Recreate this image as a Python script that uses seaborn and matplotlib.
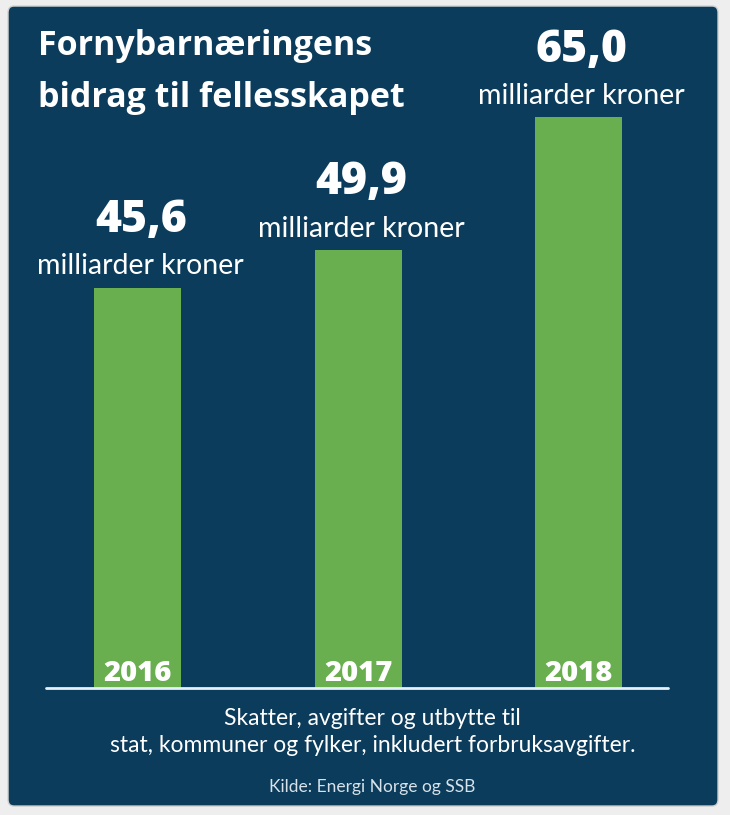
import seaborn as sns
import pandas as pd
import matplotlib.pyplot as plt
from matplotlib.patches import FancyBboxPatch

years = ["2016", "2017", "2018"]
values = [45.6, 49.9, 65.0]
value_labels = ["45,6", "49,9", "65,0"]
unit = "milliarder kroner"
title_lines = ["Fornybarnæringens", "bidrag til fellesskapet"]
note_lines = ["Skatter, avgifter og utbytte til",
              "stat, kommuner og fylker, inkludert forbruksavgifter."]
source = "Kilde: Energi Norge og SSB"

navy = "#0b3c5b"
green = "#69ae4f"
light = ["Lato", "DejaVu Sans"]

sns.set_style("white")
plt.rcParams["font.family"] = ["Open Sans", "DejaVu Sans"]

df = pd.DataFrame({"year": years, "value": values})

fig = plt.figure(figsize=(7.3, 8.15), dpi=100)
fig.patch.set_facecolor("#eeeeee")
panel = FancyBboxPatch((0.011, 0.011), 0.9726, 0.9816,
                       boxstyle="round,pad=0,rounding_size=0.008",
                       transform=fig.transFigure, facecolor=navy,
                       edgecolor="#d0d0d0", linewidth=1, zorder=-10)
fig.patches.append(panel)

ax = fig.add_axes([0.063, 0.1558, 0.852, 0.807])
ax.set_facecolor("none")
sns.barplot(data=df, x="year", y="value", color=green, width=0.395,
            saturation=1, linewidth=0, ax=ax)
ax.set_xlim(-0.417, 2.404)
ax.set_ylim(0, 74.9)
for s in ax.spines.values():
    s.set_visible(False)
ax.set_xticks([])
ax.set_yticks([])
ax.set_xlabel("")
ax.set_ylabel("")
ax.axhline(0, color="#e4f1fa", lw=2, clip_on=False)

for i, (v, lab) in enumerate(zip(values, value_labels)):
    ax.annotate(unit, xy=(i, v), xytext=(2, 6), textcoords="offset points",
                ha="center", va="bottom", color="white", fontsize=20.5,
                family=light)
    ax.annotate(lab, xy=(i, v), xytext=(2, 32), textcoords="offset points",
                ha="center", va="bottom", color="white", fontsize=32,
                fontweight="heavy")
    ax.annotate(years[i], xy=(i, 0), xytext=(0, 0), textcoords="offset points",
                ha="center", va="bottom", color="white", fontsize=21,
                fontweight="heavy")

fig.text(0.052, 0.944, title_lines[0], ha="left", va="center",
         color="white", fontsize=24.5, fontweight="bold")
fig.text(0.052, 0.880, title_lines[1], ha="left", va="center",
         color="white", fontsize=24.5, fontweight="bold")

fig.text(0.51, 0.119, note_lines[0], ha="center", va="center", color="white",
         fontsize=16.5, family=light)
fig.text(0.51, 0.0847, note_lines[1], ha="center", va="center", color="white",
         fontsize=16.5, family=light)
fig.text(0.51, 0.0344, source, ha="center", va="center", color="#d8e2ea",
         fontsize=12.5, family=light)

fig.savefig("out.png", dpi=100, facecolor=fig.get_facecolor())
